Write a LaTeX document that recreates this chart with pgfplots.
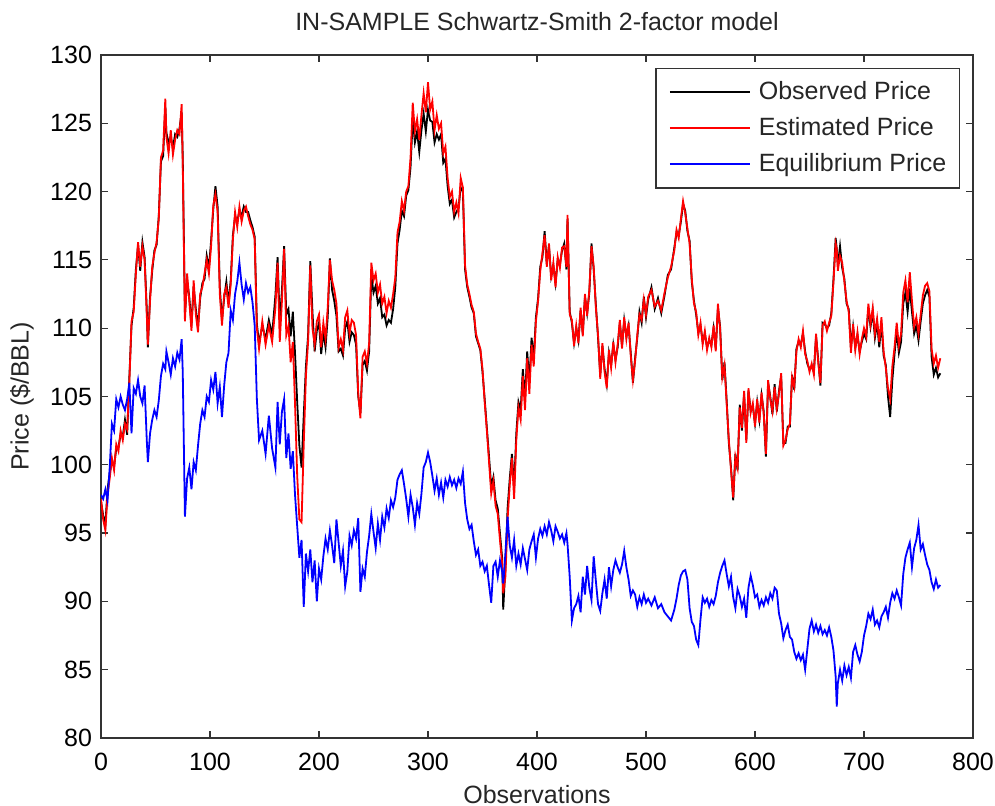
\documentclass[border=0pt]{standalone}
\usepackage{fontspec}
\setmainfont{Liberation Sans}
\usepackage{pgfplots}
\usepackage{pgfplotstable}
\pgfplotsset{compat=1.18}

% x  observed  estimated  equilibrium
\pgfplotstableread{
x obs est eq
0 97.3 97.5 97.8
2 96.3 96 97.5
4 95.6 95.2 98.2
6 98.2 97.8 97.4
8 99.4 99 99.8
10 100.2 100.5 103
12 99.9 99.6 102.5
14 101.2 101.5 104.8
16 101.3 101 104.2
18 102.2 102.5 105
20 102.1 101.8 104.4
22 103.3 103 104
24 102.2 102.6 104.8
26 106.4 106 106
28 110.2 110.5 102.3
30 111.5 111.2 105.6
32 114.3 114 105.2
34 116.1 116.3 106.2
36 114.2 114.5 105
38 116.3 116 104.5
40 115.2 115 105.8
42 111.4 111 101.8
43 108.6 108.8 100.2
45 112.3 112 102.3
47 114.2 114.5 103.3
49 115.7 115.5 104
51 116.1 116.3 103.5
53 118.2 118 104.7
55 122.2 122.5 106.5
57 122.6 123 107.4
59 126.2 126.8 107
60 124.3 124 108.3
62 123.6 122.8 107.5
64 124 124.5 106.6
66 123.2 122.7 107.8
68 124.2 123.8 107.2
70 124 124.5 108.2
72 124.6 124.2 107.7
74 125.8 126.4 109.2
75 122.5 122 106.8
77 111 110.5 96.2
79 113.5 114 99
81 112.3 112 99.8
83 110.2 109.8 98.2
85 113 113.5 100.2
87 111.4 111 99.6
89 110.1 109.7 101.4
91 112.2 112.5 103
93 113.3 113 104
95 113.6 114 103.5
97 115.3 115 105
99 114.4 114 104.6
101 116.4 116 106.2
103 118.7 119 105.5
105 120.4 119.8 106.8
107 118.9 118.5 104.5
109 113 112.5 105.7
111 110.6 110.2 103.5
113 112.2 112.5 105.8
115 113.4 113 107.5
117 111.8 111.5 108.2
119 113.5 113.2 111.3
121 116.8 116.5 110.6
123 118.2 118.5 112.5
125 117.8 117.4 113.4
127 118.6 118.9 114.8
129 118.2 117.8 113.2
131 118.9 118.6 112.1
133 118.5 118.9 113.3
135 118.5 118.2 112.6
137 117.9 117.6 113
139 117.4 117.2 111.9
141 116.7 116.5 110.2
143 110.3 110 104.8
145 108.9 108.5 101.8
148 110.2 110.5 102.5
151 109.2 108.8 100.8
154 110.6 110.2 103.6
157 109.5 109 101.2
160 112.4 111.5 99.8
162 115.2 114.8 104.6
164 110.4 109 101.5
166 112.8 112 103.9
168 116 115.8 104.8
170 111 109.5 100.5
172 111.4 110.2 102.3
174 109.4 107.5 99.7
176 111.2 109 101
178 108.2 104.5 97.8
180 104.6 99.2 95.5
182 101.4 96 93.2
184 99.8 95.8 94.5
186 103.6 101.5 89.6
188 107.2 106.5 93.5
190 109.5 109 92.2
192 114.9 114.6 93.8
194 111.2 110 91.4
196 108.3 108.8 93
198 109.8 110.5 90
200 110.4 111 92.4
202 108.1 108.6 91.6
204 109.7 110.4 93.3
206 108.6 109.2 94.6
208 110.8 111.5 93.8
210 115.1 115 95.2
212 112.8 113.5 94.1
214 112 112.8 92.8
216 110.9 111.8 96
218 108.3 108.6 94.3
220 108.5 109.2 92.6
222 108 108.4 93.7
224 110 110.8 91.1
226 110.5 111.3 92.2
228 109 109.6 94.8
230 109.7 110.6 94.1
232 109.5 110.4 95.2
234 108.8 109.5 94.6
236 105 105.2 96.1
238 103.8 103.4 90.7
240 107.3 107.9 92.4
242 107.6 108.3 91.8
244 106.9 107.4 93.6
246 108.3 108.9 94.8
248 113.9 114.8 96.4
250 112.6 113.5 95.1
252 113.1 114 93.9
254 111.8 112.6 95.7
256 112.2 113.2 94.5
258 110.8 111.8 96.2
260 111 112.3 95.4
262 110.2 111.1 96.8
264 110.6 112 96.1
266 110.4 111.5 97.4
268 111.4 112.5 96.9
270 113 113.7 97.6
272 116.2 117 98.9
274 117.2 117.8 99.3
276 118.6 119.3 99.6
278 118.2 118.6 98.6
280 119.7 120 97.5
282 120.1 120.4 96.2
284 121.8 122.5 97.8
286 125.3 126.5 96.9
288 123.6 124.4 95.6
290 124.4 125.3 97.2
292 122.9 123.8 96.4
294 124.5 125.6 97.9
296 125.7 127.2 99.8
298 124.4 125.8 100.2
300 126 128 100.9
302 125.2 126 100.2
304 125.1 126.6 99.2
306 123.6 124.5 98.1
308 124.2 125.6 99
310 123.8 124.6 97.8
312 124.2 125 98.7
314 122.1 122.8 97.6
316 122.4 123.3 98.9
318 120.4 121 98.4
320 119.1 119.6 99.1
322 119.4 120 98.5
324 118.1 118.5 98.9
326 118.5 119.2 98.3
328 118.8 118.4 99
330 120.3 121 98.6
332 120 120.3 99.5
334 114.3 114.6 97.2
336 113 113.2 96
338 112.3 112.5 95.3
340 111.5 111.7 95.6
342 111.1 111.2 94.4
344 109.4 109.6 93.4
346 108.9 109 93.8
348 108.4 108.5 92.6
350 106.8 107 92.9
352 104.8 104.6 92.2
354 102.7 102.5 92.6
356 100.6 100.2 91.2
358 98.4 97.9 89.9
360 99.1 98.8 92.6
362 97.4 97 92.9
364 96.8 96.4 91.8
366 95 94.5 93
368 93.2 92.8 92.2
369 89.4 90.6 91.3
371 92.5 91.8 93.5
373 96.8 96 96.2
375 99 98.5 94.1
377 100.8 100.5 93.2
379 98.3 97.5 94.5
381 102.3 101.8 92.6
383 104.6 104.2 93.5
385 104 103.3 92.7
387 107 106.5 93.9
389 104.8 104 93.1
391 108.3 107.8 92.3
393 106 105.2 93.8
395 109.3 108.8 94.4
397 107.8 107.2 94.9
399 110.8 110.5 93.2
401 112.2 112 94.6
403 114.5 114.2 95.3
405 115.2 115.5 94.8
407 117.1 116.8 95.5
409 114.7 114.5 94.9
411 116 116.2 95.8
413 113.8 113.5 95.2
415 114.6 114.8 94.4
417 113.3 113 95.5
419 115 115.2 95.1
421 114.7 114.4 94.6
423 115.7 115.9 94.9
425 116.2 116 94.3
427 114.3 114.5 95
428 118 118.3 94.2
430 111.2 111 91.8
432 110.4 110.6 88.6
434 108.9 108.7 89.5
436 110 110.2 89.8
438 109.1 108.9 90.4
440 111.3 111.5 89.2
442 109.6 109.4 91.8
444 112.3 112.5 90.5
446 111.1 110.9 92.6
448 112.6 112.8 91
450 116.2 116 90.1
452 114.3 114.5 93.3
454 111.7 111.5 91.5
456 109.3 109.5 89.8
458 106.6 106.3 89.3
460 108.7 108.9 90.6
462 107 106.8 91.6
464 105.9 105.6 90.2
466 108.2 108.4 92.5
468 107.3 107.1 91.1
470 108.8 109 92.3
472 107.7 107.5 93
474 108.6 108.8 92.5
476 110.4 110.6 92.1
478 108.7 108.5 92.7
480 110.6 110.8 93.7
482 109.4 109.2 92.5
484 110.2 110.4 91.6
486 108.2 108 90.4
488 106 106.2 90.8
490 107.8 107.6 90.5
492 109.3 109.5 89.6
494 111.2 111 90.3
496 110.4 110.6 89.8
498 112.3 112.1 90.5
500 110.8 111 89.9
502 112.1 112.3 90.2
505 113 112.8 89.7
508 111.4 111.6 90.3
511 112.2 112 89.5
514 111.1 111.3 89.8
517 112.4 112.6 89.2
520 113.9 113.7 88.9
523 114.3 114.5 88.6
526 115.9 115.7 89.4
528 117 117.2 90.2
530 116.8 116.6 91.2
532 117.8 118 91.9
534 119.1 119.3 92.2
536 118.6 118.4 92.3
538 117.1 117.3 91.6
540 116.4 116.2 89.5
542 113.4 113.6 88.5
544 112 111.8 88.2
546 111 111.2 87.2
548 109.7 109.5 86.8
550 110.2 110.4 88.7
552 109 108.8 90.3
554 109.6 109.8 89.9
556 108.6 108.4 90.2
558 109.1 109.3 89.6
560 108.8 108.6 90.1
562 110 110.2 89.8
564 108.5 108.3 90.4
566 111.5 111.8 91.4
568 110.1 109.9 92.1
570 106.2 106.4 92.6
572 107.5 107.3 93
574 104.7 104.5 92
576 101.6 101.8 91.1
578 99.8 99.6 91.8
580 97.4 97.6 90.3
582 100.8 100.6 89.5
584 99.6 99.8 90.9
586 104.4 104.2 90.4
588 102.5 102.7 89.6
590 105.2 105.4 90.2
592 101.8 101.6 88.8
594 105.4 105.6 91
596 104 103.8 91.9
598 104.3 104.5 91.2
600 103 102.8 90.3
602 104.6 104.8 90.5
604 103.3 103.1 89.6
606 105.1 105.3 90.1
608 103.9 103.7 89.7
610 100.6 100.8 90.3
612 106 106.2 89.9
614 105 104.8 90.6
616 103.7 103.9 90.2
618 105.9 105.7 91
620 103.9 104.1 90.8
622 105.4 105.2 89.1
624 106.5 106.7 88.4
626 101.6 101.4 87.3
628 101.6 101.8 87.9
630 102.8 102.6 88.3
632 102.8 103 87.4
634 106.6 106.4 87.2
636 105.5 105.7 86.3
638 108.5 108.3 85.8
640 109 109.2 86.2
642 108.8 108.6 85.7
644 109.6 109.8 86.1
646 108.3 108.1 85
648 107.4 107.6 86.5
650 107 106.8 88
652 107.2 107.4 88.6
654 106.8 106.6 87.8
656 109.4 109.6 88.3
658 107.7 107.5 87.7
660 105.8 106 88.2
662 110.4 110.2 87.6
664 110.3 110.5 87.9
666 110 109.8 87.5
668 110.2 110.4 88.1
670 111.1 110.9 87.4
672 113.6 113.4 86.4
674 116.6 116.2 84.5
675 115.8 115.8 82.3
676 114.6 114.2 84
678 116 115.3 85
680 114.4 114.8 84.2
682 113.6 113.4 85.3
684 111.8 112 84.6
686 111.4 111.2 85.2
688 108.6 108.2 84.4
690 110.1 110.3 86.3
692 108.6 108.4 86.8
694 109.5 109.7 86.1
696 108.3 108.1 85.6
698 109 109.2 86.3
700 109.6 110 87.5
702 109.2 109.4 88.2
704 111.5 111.8 89.1
706 110.1 110.3 88.7
708 111.2 111.5 89.4
710 109.3 109.6 88.3
712 110.4 110.7 88.6
714 108.6 109 88.1
716 110.4 110.8 88.9
718 108 108.3 89.2
720 107.3 107.1 89.6
722 105 105.6 88.8
724 103.5 104.8 89.9
726 106.2 107.2 90.6
728 108.1 108.6 90.2
730 109.8 110.4 90.8
732 108.2 108.7 90.3
734 109 109.6 89.7
736 111.8 112.6 92
738 112.6 113.5 93.2
740 111.2 111.9 93.8
742 112.9 114.1 94.3
744 111.2 112 92.5
746 109.6 110.1 93.9
748 110.2 110.8 94.5
750 109.1 109.6 95.6
752 110.5 111 93.8
754 111.8 112.4 94.2
756 112.4 113.1 93.4
758 112.8 113.3 92.7
760 112.3 112.7 92.3
762 107.9 108.5 91.4
764 106.6 107.4 90.9
766 107.1 108 91.6
768 106.4 107.1 91
770 106.7 107.8 91.2
}\prices

\begin{document}
\begin{tikzpicture}
\path[use as bounding box] (-50.5pt,-34pt) rectangle (447pt,369pt);
\begin{axis}[
    at={(0,0)}, anchor=south west, scale only axis,
    width=436pt, height=341.5pt,
    xmin=0, xmax=800, ymin=80, ymax=130,
    xtick={0,100,...,800}, ytick={80,85,...,130},
    tick align=inside, tick pos=both, major tick length=3.5pt,
    xticklabel pos=bottom, yticklabel pos=left,
    axis line style={black!80, line width=0.6pt},
    every tick/.style={black!80, line width=0.6pt},
    font=\fontsize{12.5}{15}\selectfont,
    /pgf/number format/assume math mode=true,
    xticklabel style={yshift=-4pt},
    yticklabel style={xshift=-1pt},
    title={IN-SAMPLE Schwartz-Smith 2-factor model},
    title style={at={(axis description cs:0.5,1.0176)}, anchor=base, text=black!85},
    xlabel={Observations},
    xlabel style={at={(axis description cs:0.5,-0.0952)}, anchor=base, text=black!85},
    ylabel={Price (\$/BBL)},
    ylabel style={at={(axis description cs:-0.0906,0.5)}, anchor=center, text=black!85},
    legend style={at={(axis description cs:1,1)}, anchor=north east,
        xshift=-6.5pt, yshift=-6.5pt, draw=black!80, line width=0.6pt,
        inner xsep=6.5pt, inner ysep=6.5pt, row sep=7.5pt,
        nodes={inner sep=0pt, text=black!85}, column sep=4pt,
        font=\fontsize{12.5}{15}\selectfont},
    legend cell align=left,
    legend image code/.code={\draw[#1] (0pt,0pt) -- (40pt,0pt);},
    every axis plot/.append style={line width=0.9pt},
]
\addplot[black] table[x=x, y=obs] {\prices};
\addplot[red] table[x=x, y=est] {\prices};
\addplot[blue] table[x=x, y=eq] {\prices};
\legend{Observed Price, Estimated Price, Equilibrium Price}
\end{axis}
\end{tikzpicture}
\end{document}
